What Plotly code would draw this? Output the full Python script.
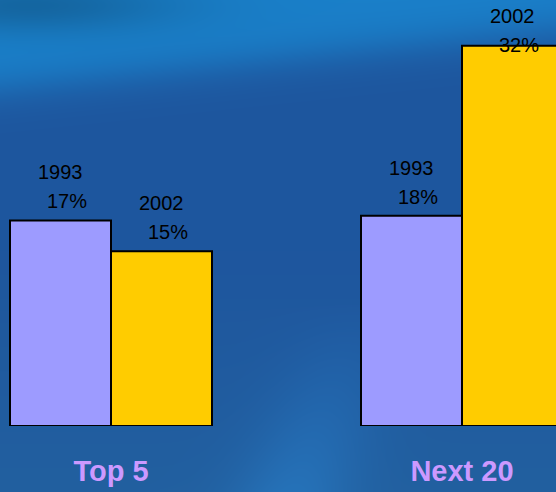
import base64
import struct
import zlib

import numpy as np
import plotly.graph_objects as go

# ---------------- data ----------------
categories = ["Top 5", "Next 20"]
years = ["1993", "2002"]
share_1993 = [17.3, 17.7]
share_2002 = [14.7, 32.0]

# ---------------- layout constants ----------------
W, H = 556, 492
MB = 66                      # bottom margin (category labels)
PLOT_H = H - MB
PX_PER_UNIT = 11.88
Y_MAX = PLOT_H / PX_PER_UNIT
CAT_SPACING = 351.0
CAT0_PX = 111.0
BAR_W_PX = 101.0
BARGAP = 1 - 2 * BAR_W_PX / CAT_SPACING
X_RANGE = [-CAT0_PX / CAT_SPACING, (W - CAT0_PX) / CAT_SPACING]

COL_1993 = "#9d9bff"
COL_2002 = "#ffcc00"
LABEL_COL = "#cc99ff"
FONT = "Arial, Liberation Sans, sans-serif"


# ---------------- background texture (decoration) ----------------
def make_background():
    yy, xx = np.mgrid[0:H, 0:W].astype(float)
    dark = np.array([30, 86, 158], float)
    light = np.array([26, 128, 202], float)
    bottom = np.array([34, 96, 160], float)
    line = 88 - 0.105 * xx
    t = 1 / (1 + np.exp(-(line - yy) / 12.0))
    img = dark[None, None, :] * (1 - t[..., None]) + light[None, None, :] * t[..., None]
    # slightly darker top-left corner
    tl = np.exp(-(((xx - 30) / 150) ** 2 + ((yy - 5) / 28) ** 2))
    img = img * (1 - 0.2 * tl[..., None])
    # lighter toward bottom
    b = np.clip((yy - 250) / 242, 0, 1)
    img = img * (1 - b[..., None]) + bottom[None, None, :] * b[..., None]
    # light diagonal streak at bottom middle
    u = (xx - 300) + 0.35 * (yy - 470)
    blob = np.exp(-((u / 60) ** 2)) * np.clip((yy - 300) / 190, 0, 1)
    img = img + blob[..., None] * np.array([4, 18, 24], float)[None, None, :]
    img = np.clip(img, 0, 255).astype(np.uint8)
    raw = b"".join(b"\x00" + img[i].tobytes() for i in range(H))

    def chunk(tag, data):
        c = struct.pack(">I", len(data)) + tag + data
        return c + struct.pack(">I", zlib.crc32(tag + data) & 0xFFFFFFFF)

    png = b"\x89PNG\r\n\x1a\n"
    png += chunk(b"IHDR", struct.pack(">IIBBBBB", W, H, 8, 2, 0, 0, 0))
    png += chunk(b"IDAT", zlib.compress(raw, 9))
    png += chunk(b"IEND", b"")
    return "data:image/png;base64," + base64.b64encode(png).decode()


fig = go.Figure()
for name, vals, col in [(years[0], share_1993, COL_1993), (years[1], share_2002, COL_2002)]:
    fig.add_trace(go.Bar(
        x=categories, y=vals, name=name,
        marker=dict(color=col, line=dict(color="black", width=2)),
        hoverinfo="skip",
    ))

# value labels: "year" over "pct"
half = (1 - BARGAP) / 4.0
annotations = []
for ti, (yr, vals) in enumerate([(years[0], share_1993), (years[1], share_2002)]):
    off = -half if ti == 0 else half
    for ci, v in enumerate(vals):
        ylab = min(v + 6 / PX_PER_UNIT, (PLOT_H - 58) / PX_PER_UNIT)
        annotations.append(dict(
            x=ci + off, y=ylab, xref="x", yref="y", text=f"{v:.0f}%",
            showarrow=False, yanchor="bottom", xshift=6,
            font=dict(family=FONT, size=20, color="black"),
        ))
        annotations.append(dict(
            x=ci + off, y=ylab, xref="x", yref="y", text=yr,
            showarrow=False, yanchor="bottom", yshift=29,
            font=dict(family=FONT, size=20, color="black"),
        ))

fig.update_layout(
    width=W, height=H,
    margin=dict(l=0, r=0, t=0, b=MB, pad=0),
    barmode="group", bargap=BARGAP, bargroupgap=0,
    showlegend=False,
    paper_bgcolor="#1f5699",
    plot_bgcolor="rgba(0,0,0,0)",
    annotations=annotations,
    images=[dict(
        source=make_background(), xref="paper", yref="paper",
        x=0, y=1, sizex=1, sizey=H / PLOT_H, xanchor="left", yanchor="top",
        sizing="stretch", layer="below",
    )],
    xaxis=dict(
        range=X_RANGE, showgrid=False, zeroline=False, showline=False,
        ticks="", ticklabelstandoff=25,
        tickfont=dict(family=FONT, size=29, color=LABEL_COL, weight="bold"),
    ),
    yaxis=dict(range=[0, Y_MAX], visible=False, showgrid=False, zeroline=False),
)

fig.write_html("out.html")
